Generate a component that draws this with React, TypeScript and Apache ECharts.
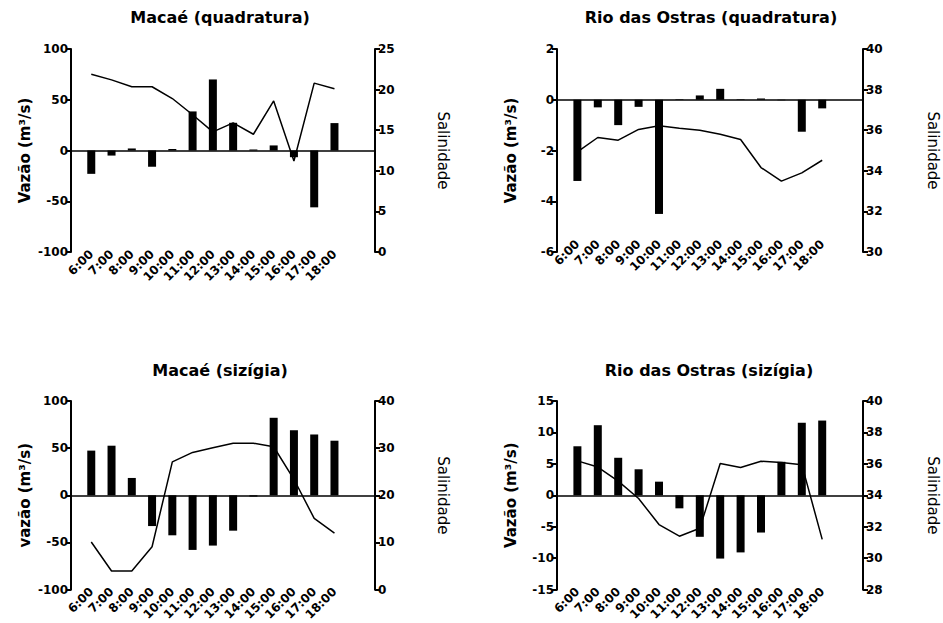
import React, { useEffect, useRef } from "react";
import * as echarts from "echarts";

const times = ["6:00", "7:00", "8:00", "9:00", "10:00", "11:00", "12:00", "13:00", "14:00", "15:00", "16:00", "17:00", "18:00"];

const macaeQuadVazao = [-23, -5, 2, -16, 1.5, 38.5, 70, 27.3, 1, 5, -6.6, -56, 27];
const macaeQuadSal = [21.9, 21.2, 20.35, 20.35, 18.9, 16.9, 14.8, 15.9, 14.5, 18.6, 11.2, 20.8, 20.1];
const rioQuadVazao = [-3.2, -0.3, -1.0, -0.28, -4.5, 0.02, 0.17, 0.43, 0.02, 0.05, -0.02, -1.26, -0.34];
const rioQuadSal = [34.93, 35.64, 35.51, 36.04, 36.22, 36.1, 36.0, 35.8, 35.54, 34.16, 33.49, 33.9, 34.52];
const macaeSizVazao = [47.4, 52.6, 18.4, -32.6, -42.4, -57.9, -53.3, -37.5, -1.3, 82.2, 69, 64.5, 57.9];
const macaeSizSal = [10.1, 3.95, 3.95, 9.1, 27.1, 29.1, 30.1, 31.05, 31.05, 30.3, 23.4, 15.1, 12.0];
const rioSizVazao = [7.8, 11.15, 5.97, 4.14, 2.17, -2.07, -6.6, -10.06, -9.08, -5.92, 5.33, 11.54, 11.89];
const rioSizSal = [36.19, 35.8, 34.9, 33.8, 32.14, 31.4, 31.9, 36.03, 35.77, 36.17, 36.09, 35.95, 31.2];

const titles = ["Macaé (quadratura)", "Rio das Ostras (quadratura)", "Macaé (sizígia)", "Rio das Ostras (sizígia)"];
const leftNames = ["Vazão (m³/s)", "Vazão (m³/s)", "vazão (m³/s)", "Vazão (m³/s)"];
const rightName = "Salinidade";

const FONT = "DejaVu Sans";

const pad = (arr: number[]) => [null, ...arr, null, null];
const xCats = ["", ...times, "", ""];

const panels = [
  { cx: 220, titleTop: 9, left: 71, top: 49, width: 304, height: 203, vazao: macaeQuadVazao, sal: macaeQuadSal, yMin: -100, yMax: 100, yInt: 50, sMin: 0, sMax: 25, sInt: 5, labelMargin: 0, rightGap: 60 },
  { cx: 711, titleTop: 9, left: 557, top: 49, width: 306, height: 203, vazao: rioQuadVazao, sal: rioQuadSal, yMin: -6, yMax: 2, yInt: 2, sMin: 30, sMax: 40, sInt: 2, labelMargin: -10, rightGap: 62 },
  { cx: 220, titleTop: 362, left: 71, top: 401, width: 304, height: 202, vazao: macaeSizVazao, sal: macaeSizSal, yMin: -100, yMax: 100, yInt: 50, sMin: 0, sMax: 40, sInt: 10, labelMargin: 0, rightGap: 60 },
  { cx: 709, titleTop: 362, left: 557, top: 401, width: 306, height: 202, vazao: rioSizVazao, sal: rioSizSal, yMin: -15, yMax: 15, yInt: 5, sMin: 28, sMax: 40, sInt: 2, labelMargin: 0, rightGap: 62 },
];

function buildOption() {
  const axisLineStyle = { color: "#000", width: 2 };
  const tickLabel = { color: "#000", fontFamily: FONT, fontWeight: "bold" as const, fontSize: 12 };
  return {
    animation: false,
    backgroundColor: "#fff",
    title: panels.map((p, i) => ({
      text: titles[i],
      left: p.cx,
      top: p.titleTop,
      textAlign: "center",
      padding: 0,
      textStyle: { color: "#000", fontFamily: FONT, fontWeight: "bold", fontSize: 16 },
    })),
    grid: panels.map((p) => ({ left: p.left, top: p.top, width: p.width, height: p.height, containLabel: false })),
    xAxis: panels.map((p, i) => ({
      type: "category",
      gridIndex: i,
      data: xCats,
      boundaryGap: false,
      axisLine: { show: false, onZero: false },
      axisTick: { show: false },
      splitLine: { show: false },
      axisLabel: { interval: 0, rotate: 45, margin: p.labelMargin, hideOverlap: false, ...tickLabel },
    })),
    yAxis: panels.flatMap((p, i) => [
      {
        type: "value",
        gridIndex: i,
        position: "left",
        min: p.yMin,
        max: p.yMax,
        interval: p.yInt,
        name: leftNames[i],
        nameLocation: "middle",
        nameGap: 39,
        nameTextStyle: { color: "#000", fontFamily: FONT, fontWeight: "bold", fontSize: 15 },
        axisLine: { show: true, onZero: false, lineStyle: axisLineStyle },
        axisTick: { show: true, length: 5, lineStyle: axisLineStyle },
        axisLabel: { margin: 3, ...tickLabel },
        splitLine: { show: false },
      },
      {
        type: "value",
        gridIndex: i,
        position: "right",
        min: p.sMin,
        max: p.sMax,
        interval: p.sInt,
        name: rightName,
        nameLocation: "middle",
        nameRotate: -90,
        nameGap: p.rightGap,
        nameTextStyle: { color: "#000", fontFamily: FONT, fontWeight: "normal", fontSize: 15 },
        axisLine: { show: true, onZero: false, lineStyle: axisLineStyle },
        axisTick: { show: true, length: 5, lineStyle: axisLineStyle },
        axisLabel: { margin: 3, ...tickLabel },
        splitLine: { show: false },
      },
    ]),
    series: [
      ...panels.map((p, i) => ({
        type: "bar",
        xAxisIndex: i,
        yAxisIndex: 2 * i,
        data: pad(p.vazao),
        barWidth: 8,
        itemStyle: { color: "#000" },
        markLine: {
          silent: true,
          symbol: ["none", "none"],
          label: { show: false },
          lineStyle: { color: "#000", width: 1.5, type: "solid" },
          data: [{ yAxis: 0 }],
        },
      })),
      ...panels.map((p, i) => ({
        type: "line",
        xAxisIndex: i,
        yAxisIndex: 2 * i + 1,
        data: pad(p.sal),
        symbol: "none",
        z: 3,
        lineStyle: { color: "#000", width: 1.5 },
        itemStyle: { color: "#000" },
      })),
    ],
  };
}

export default function App() {
  const ref = useRef<HTMLDivElement>(null);
  useEffect(() => {
    document.body.style.margin = "0";
    const chart = echarts.init(ref.current as HTMLDivElement, null, { renderer: "svg" });
    chart.setOption(buildOption() as any);
    return () => chart.dispose();
  }, []);
  return <div ref={ref} style={{ width: 943, height: 623, background: "#fff" }} />;
}
